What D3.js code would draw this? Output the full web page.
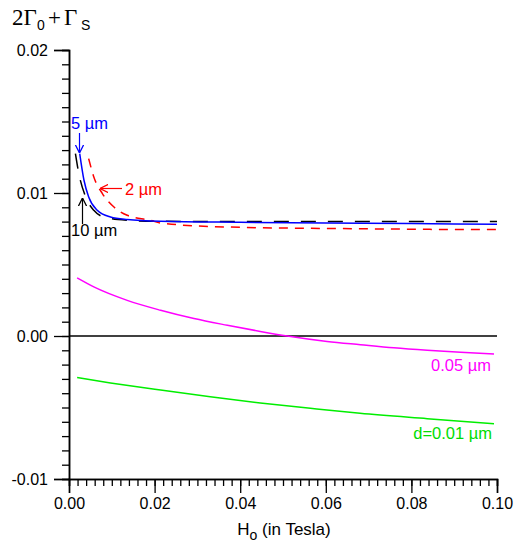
<!DOCTYPE html>
<html>
<head>
<meta charset="utf-8">
<script src="https://cdn.jsdelivr.net/npm/d3@7"></script>
<style>
  body { margin: 0; background: #fff; }
  text { font-family: "Liberation Sans", Arial, sans-serif; }
</style>
</head>
<body>
<script>
// field values (H in tesla, 2G0+Gs)
var h10 = [0.0015, 0.0023, 0.0039, 0.0058, 0.0081, 0.0136, 0.020, 0.04, 0.06, 0.08, 0.10];
var g10 = [0.01276, 0.01136, 0.00972, 0.00879, 0.00832, 0.00809, 0.00802, 0.00801, 0.00800, 0.00800, 0.00800];

var h5 = [0.0025, 0.0035, 0.0046, 0.0066, 0.0097, 0.0136, 0.0214, 0.04, 0.06, 0.08, 0.10];
var g5 = [0.01276, 0.01089, 0.00972, 0.00879, 0.00832, 0.00814, 0.00802, 0.00795, 0.00790, 0.00786, 0.00782];

var h2 = [0.0046, 0.0058, 0.0078, 0.0105, 0.0136, 0.019, 0.0214, 0.037, 0.068, 0.0992, 0.10];
var g2 = [0.0124, 0.01112, 0.00996, 0.00902, 0.00844, 0.00809, 0.0079, 0.00762, 0.0075, 0.00744, 0.00744];

var h005 = [0.0019, 0.0058, 0.0136, 0.0214, 0.0292, 0.037, 0.0447, 0.051, 0.0603, 0.0681, 0.0759, 0.0837, 0.0915, 0.0993];
var g005 = [0.00406, 0.00343, 0.00249, 0.0018, 0.00122, 0.00075, 0.00032, 0.0, -0.00038, -0.00061, -0.00083, -0.0010, -0.00114, -0.00126];

var h001 = [0.0019, 0.0097, 0.0214, 0.033, 0.0447, 0.0564, 0.068, 0.0837, 0.0993];
var g001 = [-0.00291, -0.00328, -0.00378, -0.00425, -0.00468, -0.00506, -0.00541, -0.00578, -0.00613];

var xMajor = [0, 0.02, 0.04, 0.06, 0.08, 0.10];
var yMajor = [-0.01, 0, 0.01, 0.02];

var svg = d3.select('body').append('svg')
  .attr('width', 516)
  .attr('height', 544);

var x = d3.scaleLinear().domain([0, 0.1]).range([69, 497]);
var y = d3.scaleLinear().domain([-0.01, 0.02]).range([479, 50]);

// axes
var yMinor = d3.range(-10, 21).map(function (i) { return i / 1000; });
var xMinor = d3.range(0, 51).map(function (i) { return i / 500; });

svg.append('g').attr('transform', 'translate(69,0)')
  .call(d3.axisLeft(y).tickValues(yMinor).tickSize(7).tickFormat(''));
svg.append('g').attr('transform', 'translate(69,0)')
  .call(d3.axisLeft(y).tickValues(yMajor).tickSize(15).tickPadding(6)
    .tickFormat(function (d) { return d.toFixed(2); }));

svg.append('g').attr('transform', 'translate(0,479)')
  .call(d3.axisBottom(x).tickValues(xMinor).tickSize(7).tickFormat(''));
svg.append('g').attr('transform', 'translate(0,479)')
  .call(d3.axisBottom(x).tickValues(xMajor).tickSize(14).tickPadding(5)
    .tickFormat(function (d) { return d.toFixed(2); }));

svg.selectAll('.domain').attr('stroke-width', 1.5);
svg.selectAll('.tick line').attr('stroke-width', 1.3);
svg.selectAll('.tick text').style('font-size', '16px').attr('fill', '#000');

// zero line
svg.append('line')
  .attr('x1', x(0)).attr('x2', x(0.1))
  .attr('y1', y(0)).attr('y2', y(0))
  .attr('stroke', '#000').attr('stroke-width', 1.5);

function drawCurve(hs, gs, color, dash) {
  var line = d3.line()
    .x(function (d) { return x(d[0]); })
    .y(function (d) { return y(d[1]); })
    .curve(d3.curveMonotoneX);
  svg.append('path')
    .datum(d3.zip(hs, gs))
    .attr('d', line)
    .attr('fill', 'none')
    .attr('stroke', color)
    .attr('stroke-width', 1.5)
    .attr('stroke-dasharray', dash);
}

drawCurve(h001, g001, '#00ee00', null);
drawCurve(h005, g005, '#ff00ff', null);
drawCurve(h10, g10, '#000', '15,12');
drawCurve(h2, g2, '#ff0000', '9,7');
drawCurve(h5, g5, '#0000ff', null);

// arrow heads
var defs = svg.append('defs');
[['blueArrow', '#0000ff'], ['redArrow', '#ff0000'], ['blackArrow', '#000']].forEach(function (m) {
  defs.append('marker')
    .attr('id', m[0])
    .attr('viewBox', '0 0 10 10')
    .attr('refX', 10).attr('refY', 5)
    .attr('markerWidth', 7).attr('markerHeight', 7)
    .attr('orient', 'auto')
    .append('path')
    .attr('d', 'M0,0 L10,5 L0,10')
    .attr('fill', 'none')
    .attr('stroke', m[1])
    .attr('stroke-width', 1.5);
});

function arrow(x1, y1, x2, y2, color, id) {
  svg.append('line')
    .attr('x1', x1).attr('y1', y1).attr('x2', x2).attr('y2', y2)
    .attr('stroke', color).attr('stroke-width', 1.2)
    .attr('marker-end', 'url(#' + id + ')');
}

function label(tx, ty, str, color, anchor) {
  svg.append('text')
    .attr('x', tx).attr('y', ty)
    .attr('fill', color)
    .attr('text-anchor', anchor || 'start')
    .style('font-size', '16.5px')
    .text(str);
}

label(71, 129, '5 \u00b5m', '#0000ff');
arrow(79.5, 133, 79.5, 153, '#0000ff', 'blueArrow');

label(125, 195, '2 \u00b5m', '#ff0000');
arrow(122, 188.5, 100, 188.5, '#ff0000', 'redArrow');

label(71, 236, '10 \u00b5m', '#000');
arrow(82.5, 224, 82.5, 198, '#000', 'blackArrow');

label(491, 371, '0.05 \u00b5m', '#ff00ff', 'end');
label(492, 439, 'd=0.01 \u00b5m', '#00dd00', 'end');

// y title
var serif = '"Liberation Serif", "Times New Roman", serif';
var sans = '"Liberation Sans", Arial, sans-serif';
var title = svg.append('g').style('font-size', '23px');
title.append('text').attr('x', 12).attr('y', 25).style('font-family', serif).text('2\u0393');
title.append('text').attr('x', 37).attr('y', 30).style('font-family', sans).style('font-size', '14px').text('0');
title.append('text').attr('x', 48).attr('y', 25).style('font-family', serif).text('+');
title.append('text').attr('x', 64).attr('y', 25).style('font-family', serif).text('\u0393');
title.append('text').attr('x', 81).attr('y', 30).style('font-family', sans).style('font-size', '14px').text('S');

// x title
var xt = svg.append('text')
  .attr('x', 284).attr('y', 535)
  .attr('text-anchor', 'middle')
  .style('font-size', '17px');
xt.append('tspan').text('H');
xt.append('tspan').attr('dy', 5).style('font-size', '14px').text('o');
xt.append('tspan').attr('dy', -5).text(' (in Tesla)');
</script>
</body>
</html>
